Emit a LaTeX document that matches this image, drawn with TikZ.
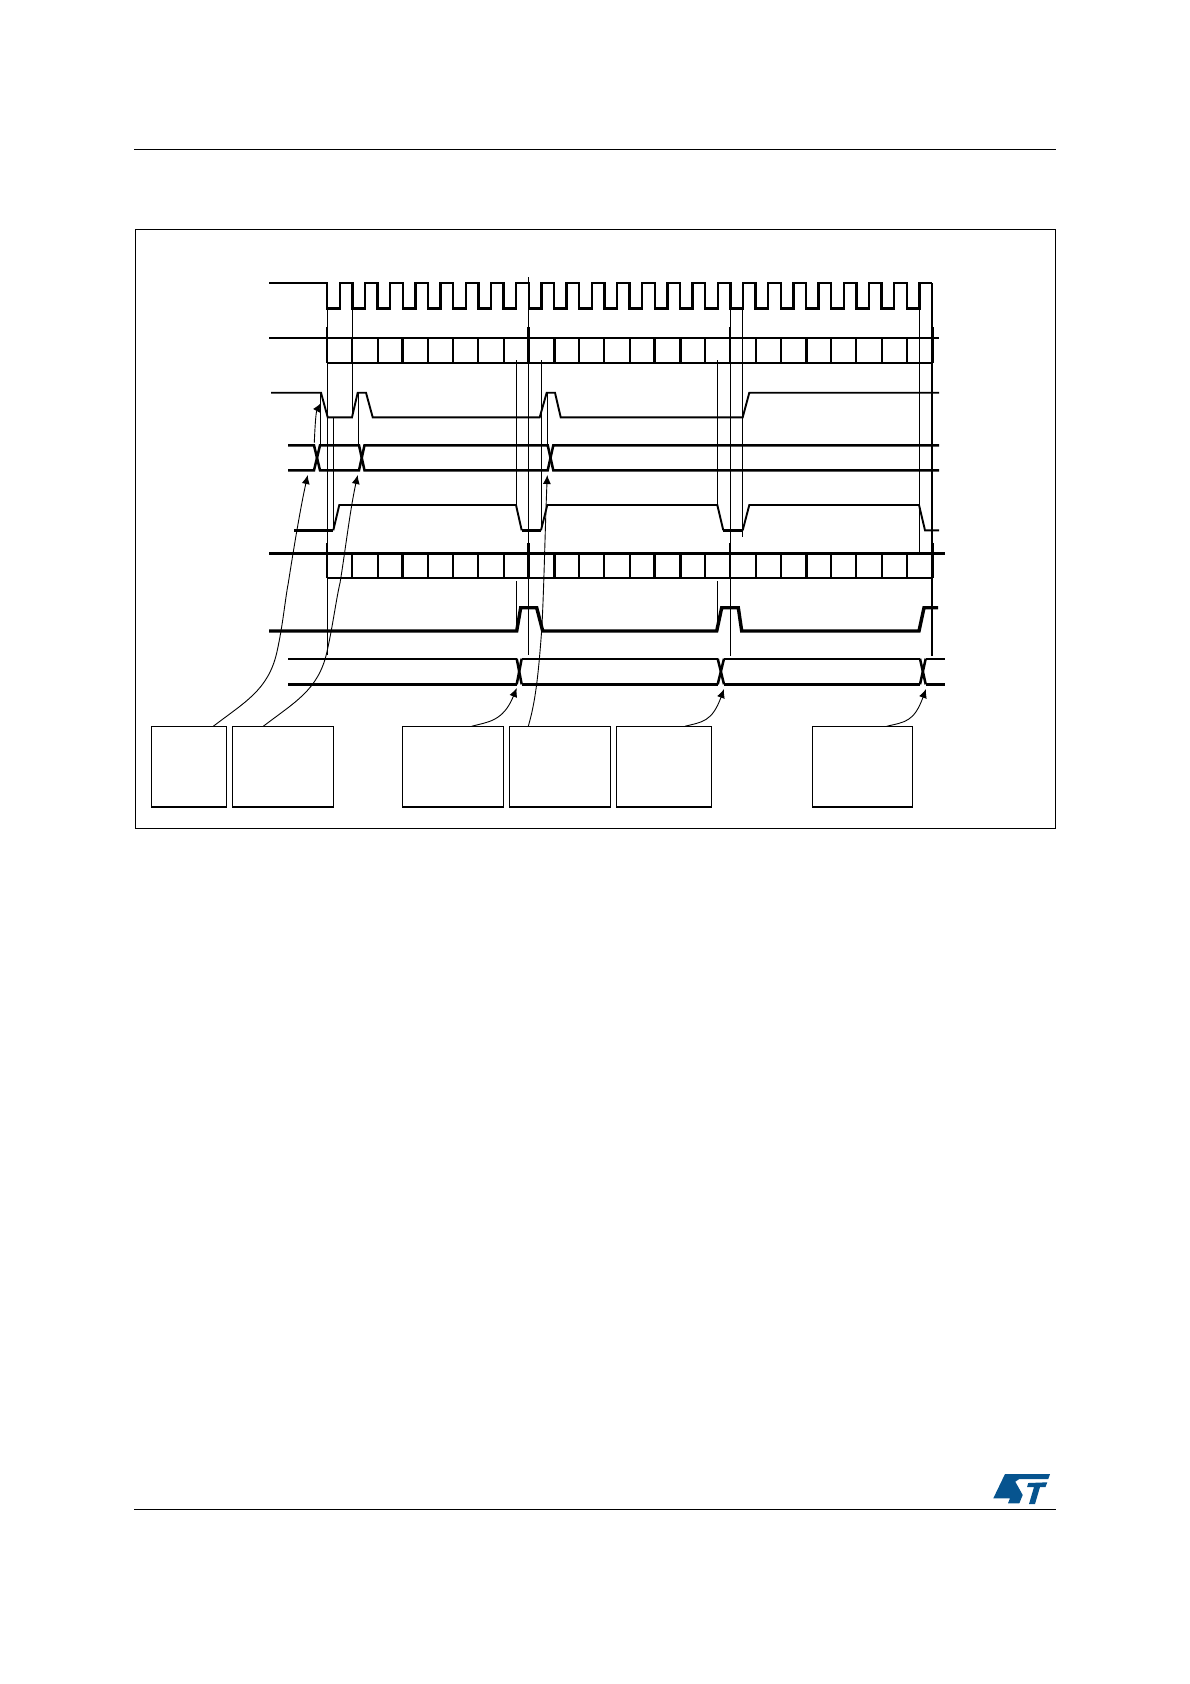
\documentclass[tikz,border=0pt]{standalone}
\usepackage{tikz}
\usetikzlibrary{arrows.meta, calc}
\definecolor{STblue}{RGB}{6,84,143}
\newcommand{\clk}{25.2}
\newcommand{\edgeA}{327.2}
\newcommand{\slotbar}[3]{
  \draw[#3] (269,#1) -- (#2,#1);
  \draw[thin wave] (\edgeA,#1+25) -- (932,#1+25);
  \foreach \n in {1,...,23} \draw[tick] ({\edgeA+\clk*\n},#1) -- ({\edgeA+\clk*\n},#1+25);
  \foreach \n in {3,9,13,14,19} \draw[bold tick] ({\edgeA+\clk*\n},#1) -- ({\edgeA+\clk*\n},#1+25);
  \foreach \n in {0,16} \draw[thin wave] ({\edgeA+\clk*\n},#1-10.5) -- ({\edgeA+\clk*\n},#1+25);
  \foreach \n in {8,24} \draw[bold tick] ({\edgeA+\clk*\n},#1-10.5) -- ({\edgeA+\clk*\n},#1+25);
}
\tikzset{wave/.style={line width=2.5pt}}
\tikzset{thin wave/.style={line width=1.9pt}}
\tikzset{heavy wave/.style={line width=3.4pt}}
\tikzset{tick/.style={line width=2pt}}
\tikzset{bold tick/.style={line width=3pt}}
\tikzset{guide/.style={line width=1.1pt}}
\tikzset{next/.style={-{Latex[length=9pt, width=8pt]}, line width=.9pt}}
\tikzset{callout/.style={draw, line width=1.1pt, inner sep=0pt, outer sep=0pt, minimum height=80.7pt}}

\begin{document}
\begin{tikzpicture}[x=1pt, y=-1pt]
  \useasboundingbox (0,0) rectangle (1190,1684);

  % --- page ---
  \draw[line width=1.1pt] (134,149.3) -- (1056,149.3);
  \draw[line width=1.1pt] (134,1509.3) -- (1056,1509.3);
  \draw[line width=1.1pt] (135.3,229.3) rectangle (1055.5,828.3);

  % --- clock ---
  \draw[wave] (269,283) foreach \n in {0,...,23} {
      -- ({\edgeA+\clk*\n},283) -- ({\edgeA+\clk*\n},308.3)
      -- ({\edgeA+\clk*\n+\clk/2},308.3) -- ({\edgeA+\clk*\n+\clk/2},283)
    } -- (932,283);

  % --- upper slots and lines ---
  \slotbar{337.7}{939}{thin wave}
  \draw[thin wave] (271,392.7) -- (321,392.7) -- (327.7,417.3) -- (352,417.3)
      -- (357.7,392.7) -- (366,392.7) -- (372.7,417.3) -- (539.7,417.3)
      -- (546.7,392.7) -- (555,392.7) -- (560.7,417.3) -- (742.7,417.3)
      -- (749.3,392.7) -- (939,392.7);
  \draw[wave] (288,445.3) -- (314,445.3) -- (320,470.3) -- (359,470.3)
      -- (364.5,445.3) -- (547.7,445.3) -- (553.3,470.3) -- (939,470.3);
  \draw[wave] (288,470.3) -- (314,470.3) -- (320,445.3) -- (359,445.3)
      -- (364.5,470.3) -- (547.7,470.3) -- (553.3,445.3) -- (939,445.3);
  \draw[wave] (294,530.3) -- (333.3,530.3);
  \draw[thin wave] (333.3,530.3) -- (339.3,505) -- (516,505) -- (521.7,530.3);
  \draw[wave] (521.7,530.3) -- (541,530.3);
  \draw[thin wave] (541,530.3) -- (547.3,505) -- (717.3,505) -- (723.3,530.3);
  \draw[wave] (723.3,530.3) -- (742.7,530.3);
  \draw[thin wave] (742.7,530.3) -- (749.3,505) -- (919,505) -- (925,530.3) -- (939,530.3);

  % --- lower slots and lines ---
  \slotbar{553.3}{945}{wave}
  \draw[heavy wave] (269,631) -- (516.7,631) -- (520.7,607.7) -- (536.7,607.7)
      -- (542.7,631) -- (716.7,631) -- (721.7,607.7) -- (738.3,607.7)
      -- (741.7,631) -- (919,631) -- (924,607.7) -- (938,607.7);
  \draw[wave] (516.7,684.3) -- (521.7,658.7);
  \draw[wave] (516.7,658.7) -- (521.7,684.3);
  \draw[wave] (717.7,684.3) -- (724,658.7);
  \draw[wave] (717.7,658.7) -- (724,684.3);
  \draw[wave] (920,684.3) -- (925.7,658.7);
  \draw[wave] (920,658.7) -- (925.7,684.3);
  \draw[thin wave] (288,658.7) -- (516.7,658.7);
  \draw[thin wave] (521.7,658.7) -- (717.7,658.7);
  \draw[thin wave] (724,658.7) -- (920,658.7);
  \draw[thin wave] (925.7,658.7) -- (945,658.7);
  \draw[wave] (288,684.3) -- (516.7,684.3);
  \draw[wave] (521.7,684.3) -- (717.7,684.3);
  \draw[wave] (724,684.3) -- (920,684.3);
  \draw[wave] (925.7,684.3) -- (945,684.3);

  % --- guide lines ---
  \draw[guide] (327.5,308) -- (327.5,655);
  \draw[guide] (352.4,308) -- (352.4,417);
  \draw[guide] (333.3,417) -- (333.3,530);
  \draw[guide] (320.5,393) -- (320.5,445);
  \draw[guide] (358.5,393) -- (358.5,445);
  \draw[guide] (547.3,393) -- (547.3,445);
  \draw[guide] (528.8,277) -- (528.8,655);
  \draw[guide] (516.5,360) -- (516.5,505);
  \draw[guide] (516.5,581) -- (516.5,631);
  \draw[guide] (541.5,360) -- (541.5,530);
  \draw[guide] (717.3,360) -- (717.3,505);
  \draw[guide] (717.3,581) -- (717.3,630);
  \draw[guide] (730.4,308) -- (730.4,656);
  \draw[guide] (742.5,308) -- (742.5,537);
  \draw[guide] (919.3,308) -- (919.3,553);
  \draw[guide] (932,283) -- (932,656);

  % --- callouts ---
  \node[callout, minimum width=75.4pt] (startA) at (189,766.6) {};
  \node[callout, minimum width=101pt] (startB) at (282.8,766.6) {};
  \node[callout, minimum width=101pt] (stopA) at (452.8,766.6) {};
  \node[callout, minimum width=101pt] (startC) at (559.8,766.6) {};
  \node[callout, minimum width=95pt] (stopB) at (663.8,766.6) {};
  \node[callout, minimum width=100pt] (stopC) at (862.3,766.6) {};

  \coordinate (tipA) at (307.7,475);
  \coordinate (tipB) at (357.7,475);
  \coordinate (tipC) at (516.7,688);
  \coordinate (tipD) at (547.3,475);
  \coordinate (tipE) at (724,689);
  \coordinate (tipF) at (926,689);
  \coordinate (riseA) at (314.3,442.7);
  \coordinate (riseB) at (321,403);

  \draw[next] ([xshift=24.3pt]startA.north) .. controls (245,702) and (268,690) .. (276.7,653)
      .. controls (283,625) and (285,600) .. (288.3,583)
      .. controls (293,553) and (300,510) .. (tipA);
  \draw[next] ([xshift=-19.5pt]startB.north) .. controls (295,702) and (318,690) .. (326.7,653)
      .. controls (333,625) and (336,600) .. (340,583)
      .. controls (345,553) and (350,510) .. (tipB);
  \draw[next] ([xshift=18.9pt]stopA.north) .. controls (487,722) and (503,722) .. (tipC);
  \draw[next] ([xshift=-31.5pt]startC.north) .. controls (535,703) and (538,680) .. (541.7,630)
      .. controls (544,590) and (545,530) .. (tipD);
  \draw[next] ([xshift=21.2pt]stopB.north) .. controls (702,722) and (712,722) .. (tipE);
  \draw[next] ([xshift=24.4pt]stopC.north) .. controls (905,722) and (914,722) .. (tipF);
  \draw[next] (riseA) .. controls (315,425) and (316,412) .. (riseB);

  % --- logo ---
  \fill[STblue] (1005,1474) -- (1050,1474) -- (1048.3,1479) -- (1019.3,1479) -- (1015.3,1481.7)
      -- (1022.7,1495) -- (1019.3,1503.3) -- (1008,1503.3) -- (1010,1498.3) -- (993.3,1498.3) -- cycle;
  \fill[STblue] (1028.3,1483) -- (1047.3,1482.3) -- (1045.5,1487) -- (1040,1487)
      -- (1035,1504) -- (1029,1504) -- (1034,1487) -- (1027,1487) -- cycle;
\end{tikzpicture}
\end{document}
